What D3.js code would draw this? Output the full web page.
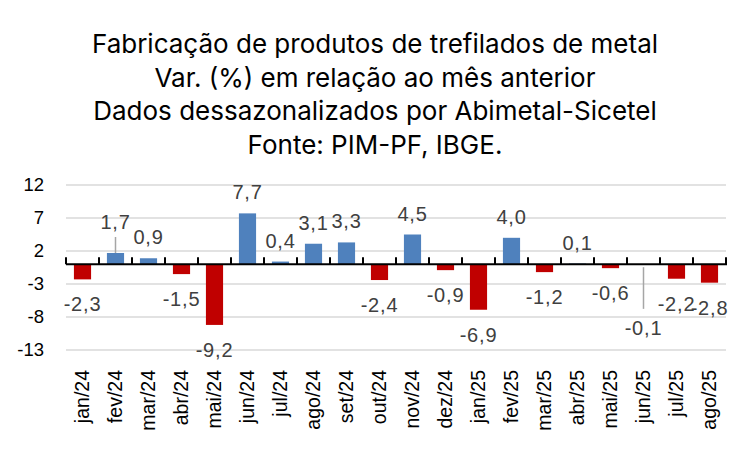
<!DOCTYPE html>
<html>
<head>
<meta charset="utf-8">
<script src="https://cdn.jsdelivr.net/npm/d3@7"></script>
<style>
  html, body { margin: 0; padding: 0; background: #fff; }
  svg { display: block; }
</style>
</head>
<body>
<svg id="chart" width="750" height="450"></svg>
<script>
const titleLines = [
  "Fabricação de produtos de trefilados de metal",
  "Var. (%) em relação ao mês anterior",
  "Dados dessazonalizados por Abimetal-Sicetel",
  "Fonte: PIM-PF, IBGE."
];
const categories = ["jan/24","fev/24","mar/24","abr/24","mai/24","jun/24","jul/24","ago/24","set/24","out/24","nov/24","dez/24",
  "jan/25","fev/25","mar/25","abr/25","mai/25","jun/25","jul/25","ago/25"];
const values = [-2.3, 1.7, 0.9, -1.5, -9.2, 7.7, 0.4, 3.1, 3.3, -2.4, 4.5, -0.9,
  -6.9, 4.0, -1.2, 0.1, -0.6, -0.1, -2.2, -2.8];
const yTicks = [12, 7, 2, -3, -8, -13];

// labels moved away from their bars, with a leader line (extra distance in px)
const leaderLabels = { "fev/24": 10, "jun/25": 38 };

const svg = d3.select("#chart");
const plot = { left: 66, right: 726, top: 185, bottom: 350 };

const x = d3.scaleBand().domain(categories).range([plot.left, plot.right]).padding(0);
const y = d3.scaleLinear().domain([-13, 12]).range([plot.bottom, plot.top]);
const barW = x.bandwidth() * 0.52;
const cx = c => x(c) + x.bandwidth() / 2;

// title
const title = svg.append("g");
titleLines.forEach((t, i) => {
  title.append("text")
    .attr("x", 375).attr("y", 53 + i * 33.5)
    .attr("text-anchor", "middle")
    .attr("font-family", "Inter, 'Noto Sans', sans-serif")
    .attr("font-size", 26)
    .attr("fill", "#000")
    .text(t);
});

// gridlines
svg.append("g").selectAll("line").data(yTicks).join("line")
  .attr("x1", plot.left).attr("x2", plot.right)
  .attr("y1", d => y(d)).attr("y2", d => y(d))
  .attr("stroke", "#d9d9d9").attr("stroke-width", 1.5);

// y tick labels
svg.append("g").selectAll("text").data(yTicks).join("text")
  .attr("x", 44).attr("y", d => y(d))
  .attr("dy", "0.35em")
  .attr("text-anchor", "end")
  .attr("font-family", "'Liberation Sans', Arial, sans-serif")
  .attr("font-size", 18.5)
  .attr("fill", "#000")
  .text(d => d);

// bars
const data = categories.map((c, i) => ({ c, v: values[i] }));
svg.append("g").selectAll("rect").data(data).join("rect")
  .attr("x", d => cx(d.c) - barW / 2)
  .attr("width", barW)
  .attr("y", d => y(Math.max(0, d.v)))
  .attr("height", d => Math.abs(y(d.v) - y(0)))
  .attr("fill", d => d.v >= 0 ? "#4f81bd" : "#c00000");

// zero axis
const axisG = svg.append("g");
axisG.append("line")
  .attr("x1", plot.left).attr("x2", plot.right + 1)
  .attr("y1", y(0)).attr("y2", y(0))
  .attr("stroke", "#000").attr("stroke-width", 2);
const bounds = categories.map(c => x(c)).concat([plot.right]);
axisG.selectAll("line.tick").data(bounds).join("line")
  .attr("class", "tick")
  .attr("x1", d => d).attr("x2", d => d)
  .attr("y1", y(0)).attr("y2", y(0) - 7)
  .attr("stroke", "#000").attr("stroke-width", 2);

// x labels (rotated)
svg.append("g").selectAll("text").data(categories).join("text")
  .attr("transform", c => `translate(${cx(c)},370) rotate(-90)`)
  .attr("dy", "0.35em")
  .attr("text-anchor", "end")
  .attr("font-family", "'Liberation Sans', Arial, sans-serif")
  .attr("font-size", 19.5)
  .attr("fill", "#000")
  .text(c => c);

// data labels
const fmt = v => d3.format(".1f")(v).replace(".", ",").replace("−", "-");
const labelY = d => {
  const extra = leaderLabels[d.c] || 0;
  return d.v >= 0 ? y(d.v) - 21 - extra : y(d.v) + 25 + extra;
};
svg.append("g").selectAll("line").data(data.filter(d => leaderLabels[d.c])).join("line")
  .attr("x1", d => cx(d.c)).attr("x2", d => cx(d.c))
  .attr("y1", d => d.v >= 0 ? y(d.v) : y(0) + 3)
  .attr("y2", d => d.v >= 0 ? labelY(d) + 15 : labelY(d) - 19)
  .attr("stroke", "#a6a6a6").attr("stroke-width", 1.5);
svg.append("g").selectAll("text").data(data).join("text")
  .attr("x", d => cx(d.c))
  .attr("y", d => labelY(d))
  .attr("dy", "0.35em")
  .attr("text-anchor", "middle")
  .attr("font-family", "'Liberation Sans', Arial, sans-serif")
  .attr("font-size", 20)
  .attr("letter-spacing", 0.8)
  .attr("fill", "#404040")
  .text(d => fmt(d.v));
</script>
</body>
</html>
